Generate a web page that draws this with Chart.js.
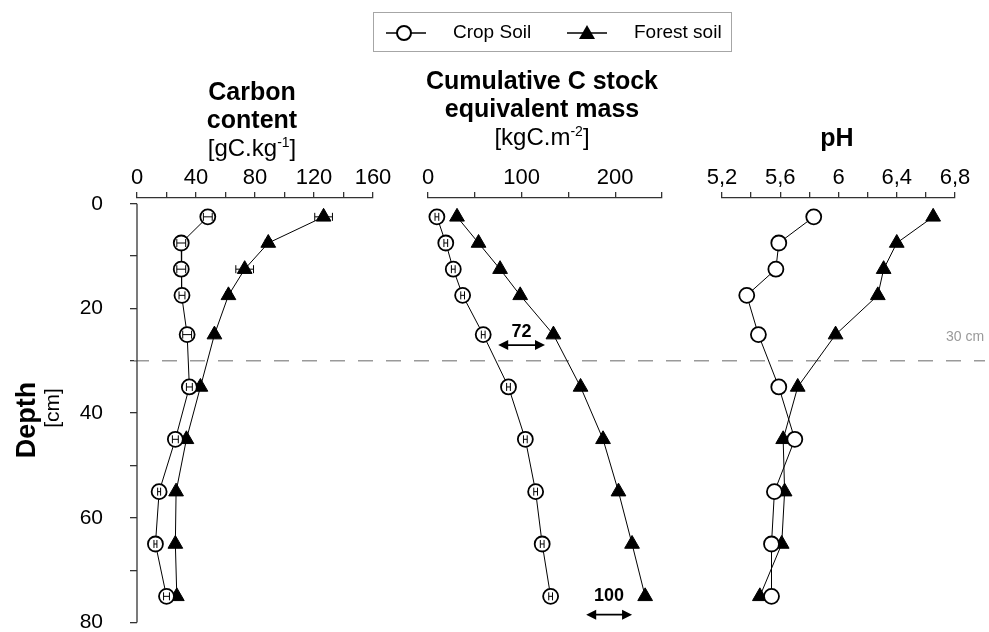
<!DOCTYPE html>
<html>
<head>
<meta charset="utf-8">
<script src="https://cdn.jsdelivr.net/npm/chart.js@4.4.1/dist/chart.umd.min.js"></script>
<style>
  body { margin: 0; background: #fff; font-family: "Liberation Sans", Arial, sans-serif; }
  #wrap { position: relative; width: 989px; height: 632px; overflow: hidden; }
  #wrap canvas { position: absolute; left: 0; top: 0; }
  .ttl { position: absolute; text-align: center; font-size: 25px; line-height: 28px; font-weight: bold; color: #000; }
  .unit { font-weight: normal; font-size: 24px; }
  .sup { position: relative; top: -9px; font-size: 14px; line-height: 0; }
  .rot { position: absolute; width: 200px; text-align: center; transform: rotate(-90deg); color: #000; }
  #legend { position: absolute; left: 373px; top: 12px; width: 359px; height: 40px; border: 1.5px solid #a6a6a6; box-sizing: border-box; font-size: 19px; }
  #legend span { position: absolute; top: 8px; }
  #legend svg { position: absolute; left: 0; top: 0; }
</style>
</head>
<body>
<div id="wrap">
  <canvas id="c1" width="989" height="632"></canvas>
  <canvas id="c2" width="989" height="632"></canvas>
  <canvas id="c3" width="989" height="632"></canvas>

  <div class="ttl" style="left:142px;top:77px;width:220px;">Carbon<br>content<br><span class="unit">[gC.kg<span class="sup">-1</span>]</span></div>
  <div class="ttl" style="left:372px;top:66px;width:340px;">Cumulative C stock<br>equivalent mass<br><span class="unit">[kgC.m<span class="sup">-2</span>]</span></div>
  <div class="ttl" style="left:767px;top:123px;width:140px;">pH</div>

  <div class="rot" style="left:-74px;top:405px;font-size:27px;font-weight:bold;line-height:30px;">Depth</div>
  <div class="rot" style="left:-48px;top:396px;font-size:21px;line-height:24px;">[cm]</div>

  <div id="legend">
    <svg width="359" height="40">
      <line x1="12" y1="20" x2="52" y2="20" stroke="#000" stroke-width="1.5"/>
      <circle cx="30" cy="20" r="7" fill="#fff" stroke="#000" stroke-width="2"/>
      <line x1="193" y1="20" x2="233" y2="20" stroke="#000" stroke-width="1.5"/>
      <polygon points="213,12 221,26 205,26" fill="#000"/>
    </svg>
    <span style="left:79px;">Crop Soil</span>
    <span style="left:260px;">Forest soil</span>
  </div>
</div>

<script>
// depth of each sampled layer (cm)
const depth = [2.5, 7.5, 12.5, 17.5, 25, 35, 45, 55, 65, 75];

// carbon content gC/kg
const cropCarbon = [48, 30, 30, 30.5, 34, 35.5, 26, 15, 12.5, 20];
const forestCarbon = [126.5, 89, 73, 62, 52.5, 43, 33.5, 26.5, 26, 27];
const cropCarbonErr = [3, 3, 3, 2, 3, 2, 2, 1, 1, 2];
const forestCarbonErr = [6, 2, 6, 2, 1, 1, 1, 1, 1, 1];

// cumulative C stock, equivalent mass, kgC/m2
const cropStock = [9.5, 19, 27, 37, 59, 86, 104, 115, 122, 131];
const forestStock = [31, 54, 77, 98.5, 134, 163, 187, 203.5, 218, 232];
const cropStockErr = [2, 2, 2, 2, 2, 2, 2, 2, 2, 2];

// pH
const cropPH = [5.83, 5.59, 5.57, 5.37, 5.45, 5.59, 5.70, 5.56, 5.54, 5.54];
const forestPH = [6.65, 6.40, 6.31, 6.27, 5.98, 5.72, 5.62, 5.63, 5.61, 5.46];

const seriesNames = ['Crop Soil', 'Forest soil'];

Chart.defaults.font.family = '"Liberation Sans", Arial, sans-serif';
Chart.defaults.color = '#000';

function pts(xs) {
  return depth.map((d, i) => ({ x: xs[i], y: d }));
}

function cropSet(xs, err) {
  return {
    label: seriesNames[0], data: pts(xs), errors: err, showLine: true,
    borderColor: '#000', borderWidth: 1,
    pointStyle: 'circle', pointRadius: 7.5, pointBackgroundColor: '#fff',
    pointBorderColor: '#000', pointBorderWidth: 1.8, clip: false
  };
}
function forestSet(xs, err) {
  return {
    label: seriesNames[1], data: pts(xs), errors: err, showLine: true,
    borderColor: '#000', borderWidth: 1,
    pointStyle: 'triangle', pointRadius: 8.5, pointBackgroundColor: '#000',
    pointBorderColor: '#000', pointBorderWidth: 1, clip: false
  };
}

// small horizontal error bars over the markers
const errorBars = {
  id: 'errorBars',
  afterDatasetsDraw(chart) {
    const ctx = chart.ctx;
    const xs = chart.scales.x, ys = chart.scales.y;
    ctx.save();
    ctx.strokeStyle = '#000';
    ctx.lineWidth = 1;
    chart.data.datasets.forEach(ds => {
      if (!ds.errors) return;
      ds.data.forEach((p, i) => {
        const e = ds.errors[i];
        const a = xs.getPixelForValue(p.x - e), b = xs.getPixelForValue(p.x + e);
        const y = ys.getPixelForValue(p.y);
        ctx.beginPath();
        ctx.moveTo(a, y); ctx.lineTo(b, y);
        ctx.moveTo(a, y - 4); ctx.lineTo(a, y + 4);
        ctx.moveTo(b, y - 4); ctx.lineTo(b, y + 4);
        ctx.stroke();
      });
    });
    ctx.restore();
  }
};

// y axis line + 30 cm dashed line
const depthGuide = {
  id: 'depthGuide',
  beforeDatasetsDraw(chart) {
    const ctx = chart.ctx, ys = chart.scales.y, area = chart.chartArea;
    const y30 = ys.getPixelForValue(30);
    ctx.save();
    ctx.strokeStyle = '#9a9a9a';
    ctx.lineWidth = 1.5;
    ctx.setLineDash([15, 13]);
    ctx.beginPath();
    ctx.moveTo(area.left - 3, y30);
    ctx.lineTo(985, y30);
    ctx.stroke();
    ctx.setLineDash([]);
    ctx.fillStyle = '#9a9a9a';
    ctx.font = '14px "Liberation Sans", Arial, sans-serif';
    ctx.textAlign = 'center';
    ctx.textBaseline = 'middle';
    ctx.fillText('30 cm', 965, y30 - 24);
    ctx.strokeStyle = '#333';
    ctx.lineWidth = 1.3;
    ctx.beginPath();
    ctx.moveTo(area.left, ys.getPixelForValue(0));
    ctx.lineTo(area.left, ys.getPixelForValue(80));
    ctx.stroke();
    ctx.restore();
  }
};

// difference arrows in the stock panel (data units)
const gapNotes = [
  { text: '72', from: 75, to: 125, depth: 27, textDepth: 24.5 },
  { text: '100', from: 169, to: 218, depth: 78.5, textDepth: 75 }
];
function arrowHead(ctx, x, y, dir) {
  ctx.beginPath();
  ctx.moveTo(x, y);
  ctx.lineTo(x - dir * 10, y - 5);
  ctx.lineTo(x - dir * 10, y + 5);
  ctx.closePath();
  ctx.fill();
}
const gapArrows = {
  id: 'gapArrows',
  afterDatasetsDraw(chart) {
    const ctx = chart.ctx, xs = chart.scales.x, ys = chart.scales.y;
    ctx.save();
    ctx.strokeStyle = '#000';
    ctx.fillStyle = '#000';
    ctx.lineWidth = 1.8;
    gapNotes.forEach(n => {
      const a = xs.getPixelForValue(n.from), b = xs.getPixelForValue(n.to);
      const y = ys.getPixelForValue(n.depth);
      ctx.beginPath();
      ctx.moveTo(a + 4, y); ctx.lineTo(b - 4, y);
      ctx.stroke();
      arrowHead(ctx, a, y, -1);
      arrowHead(ctx, b, y, 1);
      ctx.font = 'bold 18px "Liberation Sans", Arial, sans-serif';
      ctx.textAlign = 'center';
      ctx.textBaseline = 'middle';
      ctx.fillText(n.text, (a + b) / 2, ys.getPixelForValue(n.textDepth));
    });
    ctx.restore();
  }
};

function makePanel(id, datasets, xOpt, left, right, showY, plugins) {
  return new Chart(document.getElementById(id), {
    type: 'scatter',
    data: { datasets: datasets },
    plugins: plugins,
    options: {
      responsive: false,
      animation: false,
      layout: { padding: { left: showY ? 0 : left, right: 989 - right, top: 0, bottom: 9 } },
      plugins: { legend: { display: false }, tooltip: { enabled: false } },
      scales: {
        x: {
          type: 'linear', position: 'top', min: xOpt.min, max: xOpt.max,
          afterFit: s => { s.height = 198; },
          ticks: {
            stepSize: xOpt.step, autoSkip: false, maxRotation: 0,
            callback: xOpt.label, font: { size: 22 }, color: '#000', padding: 1
          },
          grid: { drawOnChartArea: false, drawTicks: true, tickLength: 6, color: '#333', lineWidth: 1.3 },
          border: { display: true, color: '#333', width: 1.3 }
        },
        y: {
          type: 'linear', reverse: true, min: -1.1, max: 80, display: showY,
          afterFit: s => {
            s.width = showY ? left : 0;
            // keep the depth range identical in all three panels
            s.paddingTop = 0;
            s.paddingBottom = 0;
          },
          afterBuildTicks: s => { s.ticks = s.ticks.filter(t => t.value >= 0); },
          ticks: {
            stepSize: 10, includeBounds: false, autoSkip: false,
            callback: v => (v % 20 === 0 ? v : ''), font: { size: 21 }, color: '#000', padding: 27
          },
          grid: { drawOnChartArea: false, drawTicks: true, tickLength: 7, color: '#333', lineWidth: 1.3 },
          border: { display: false }
        }
      }
    }
  });
}

makePanel('c1',
  [cropSet(cropCarbon, cropCarbonErr), forestSet(forestCarbon, forestCarbonErr)],
  { min: 0, max: 160, step: 20, label: v => (v % 40 === 0 ? v : '') },
  137, 373, true, [depthGuide, errorBars]);

makePanel('c2',
  [cropSet(cropStock, cropStockErr), forestSet(forestStock, null)],
  { min: 0, max: 250, step: 50, label: v => (v % 100 === 0 ? v : '') },
  428, 662, false, [errorBars, gapArrows]);

makePanel('c3',
  [cropSet(cropPH, null), forestSet(forestPH, null)],
  { min: 5.2, max: 6.8, step: 0.2,
    label: v => (Math.round(v * 10) % 4 === 0 ? String(Math.round(v * 10) / 10).replace('.', ',') : '') },
  722, 955, false, []);
</script>
</body>
</html>
